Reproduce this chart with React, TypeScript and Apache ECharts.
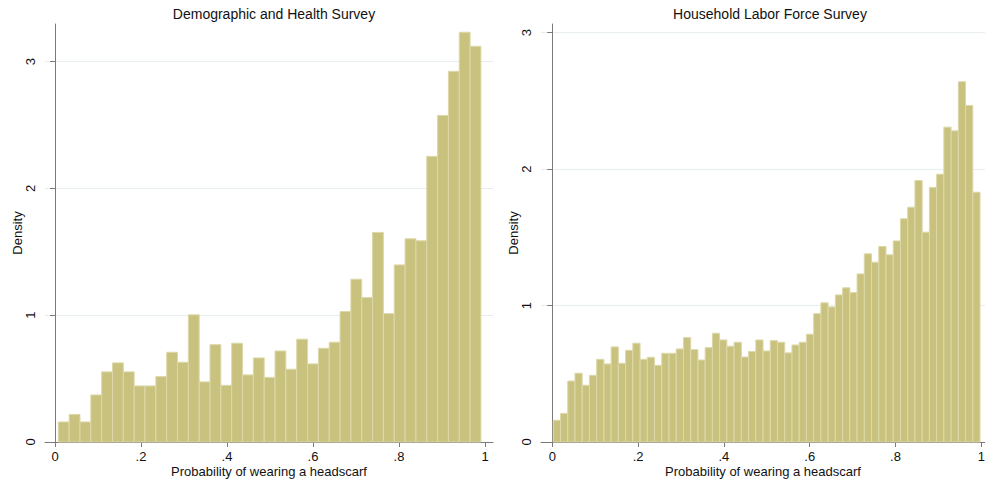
import React, { useEffect, useRef } from "react";
import * as echarts from "echarts";

const xTicks = [0, 0.2, 0.4, 0.6, 0.8, 1];
const xTickLabels = ["0", ".2", ".4", ".6", ".8", "1"];
const yTicks = [0, 1, 2, 3];

const dhsTitle = "Demographic and Health Survey";
const hlfsTitle = "Household Labor Force Survey";
const xTitle = "Probability of wearing a headscarf";
const yTitle = "Density";

// Demographic and Health Survey histogram (39 bins)
const dhsBinStart = 0.0077;
const dhsBinWidth = 0.0252;
const dhsDensity = [
  0.158, 0.218, 0.158, 0.371, 0.553, 0.624, 0.553, 0.442, 0.442, 0.516,
  0.708, 0.629, 1.003, 0.474, 0.768, 0.447, 0.779, 0.529, 0.663, 0.51,
  0.718, 0.574, 0.811, 0.616, 0.739, 0.787, 1.029, 1.284, 1.139, 1.653,
  1.013, 1.397, 1.603, 1.587, 2.253, 2.576, 2.924, 3.232, 3.121,
];

// Household Labor Force Survey histogram (59 bins)
const hlfsBinStart = 0.0023;
const hlfsBinWidth = 0.01686;
const hlfsDensity = [
  0.159, 0.21, 0.447, 0.504, 0.416, 0.489, 0.606, 0.572, 0.697, 0.577,
  0.672, 0.724, 0.606, 0.621, 0.562, 0.65, 0.65, 0.682, 0.765, 0.677,
  0.601, 0.692, 0.797, 0.748, 0.702, 0.731, 0.623, 0.663, 0.748, 0.667,
  0.743, 0.731, 0.653, 0.711, 0.731, 0.79, 0.941, 1.02, 0.99, 1.078,
  1.13, 1.095, 1.232, 1.379, 1.318, 1.433, 1.372, 1.474, 1.636, 1.721,
  1.917, 1.538, 1.866, 1.963, 2.308, 2.281, 2.641, 2.467, 1.831,
];

const FONT = "'Liberation Sans', Arial, sans-serif";
const BAR_FILL = "#C9C27E";
const BAR_EDGE = "#DDD8AA";
const AXIS = "#7a7a7a";
const GRID = "#E6EEF0";
const TEXT = "#111111";

function toBins(start: number, width: number, vals: number[]) {
  return vals.map((v, i) => [start + i * width, start + (i + 1) * width, v]);
}

const renderBar = (params: any, api: any) => {
  const p0 = api.coord([api.value(0), api.value(2)]);
  const p1 = api.coord([api.value(1), 0]);
  return {
    type: "rect",
    shape: { x: p0[0], y: p0[1], width: p1[0] - p0[0], height: p1[1] - p0[1] },
    style: { fill: BAR_FILL, stroke: BAR_EDGE, lineWidth: 1 },
  };
};

function xAxisCfg(gridIndex: number, min: number, max: number) {
  return {
    type: "value",
    gridIndex,
    min,
    max,
    name: xTitle,
    nameLocation: "middle",
    nameGap: 23,
    nameMoveOverlap: false,
    nameTextStyle: { fontFamily: FONT, fontSize: 13, color: TEXT },
    axisLine: { show: true, lineStyle: { color: AXIS, width: 1 } },
    axisTick: {
      show: true,
      length: 5,
      customValues: xTicks,
      lineStyle: { color: AXIS },
    },
    axisLabel: {
      show: true,
      customValues: xTicks,
      formatter: (v: number) => {
        const idx = xTicks.findIndex((t) => Math.abs(t - v) < 1e-6);
        return idx >= 0 ? xTickLabels[idx] : "";
      },
      margin: 8,
      fontFamily: FONT,
      fontSize: 13,
      lineHeight: 13,
      color: TEXT,
    },
    splitLine: { show: false },
  };
}

function yAxisCfg(gridIndex: number, max: number) {
  return {
    type: "value",
    gridIndex,
    min: 0,
    max,
    interval: 1,
    name: yTitle,
    nameLocation: "middle",
    nameRotate: 90,
    nameGap: 21,
    nameMoveOverlap: false,
    nameTextStyle: { fontFamily: FONT, fontSize: 13, color: TEXT },
    axisLine: { show: true, lineStyle: { color: AXIS, width: 1 } },
    axisTick: {
      show: true,
      length: 5,
      customValues: yTicks,
      lineStyle: { color: AXIS },
    },
    axisLabel: {
      show: true,
      customValues: yTicks,
      rotate: 90,
      margin: 8,
      fontFamily: FONT,
      fontSize: 13,
      color: TEXT,
    },
    splitLine: { show: true, lineStyle: { color: GRID, width: 1 } },
  };
}

export default function App() {
  const ref = useRef<HTMLDivElement>(null);
  useEffect(() => {
    document.body.style.margin = "0";
    if (!ref.current) return;
    const chart = echarts.init(ref.current, null, { renderer: "svg" });
    chart.setOption({
      animation: false,
      backgroundColor: "#ffffff",
      title: [
        {
          text: dhsTitle,
          left: 269,
          top: 2,
          textAlign: "center",
          textStyle: { fontFamily: FONT, fontSize: 14, fontWeight: "normal", color: TEXT },
        },
        {
          text: hlfsTitle,
          left: 765,
          top: 2,
          textAlign: "center",
          textStyle: { fontFamily: FONT, fontSize: 14, fontWeight: "normal", color: TEXT },
        },
      ],
      grid: [
        { left: 45, top: 24, width: 448, height: 418, outerBoundsMode: "none", containLabel: false },
        { left: 541, top: 24, width: 444, height: 418, outerBoundsMode: "none", containLabel: false },
      ],
      xAxis: [xAxisCfg(0, -0.0233, 1.0186), xAxisCfg(1, -0.0263, 1.0086)],
      yAxis: [yAxisCfg(0, 3.297), yAxisCfg(1, 3.064)],
      series: [
        {
          type: "custom",
          xAxisIndex: 0,
          yAxisIndex: 0,
          renderItem: renderBar,
          encode: { x: [0, 1], y: 2 },
          data: toBins(dhsBinStart, dhsBinWidth, dhsDensity),
        },
        {
          type: "custom",
          xAxisIndex: 1,
          yAxisIndex: 1,
          renderItem: renderBar,
          encode: { x: [0, 1], y: 2 },
          data: toBins(hlfsBinStart, hlfsBinWidth, hlfsDensity),
        },
      ],
    });
    return () => chart.dispose();
  }, []);
  return <div ref={ref} style={{ width: 985, height: 479 }} />;
}
